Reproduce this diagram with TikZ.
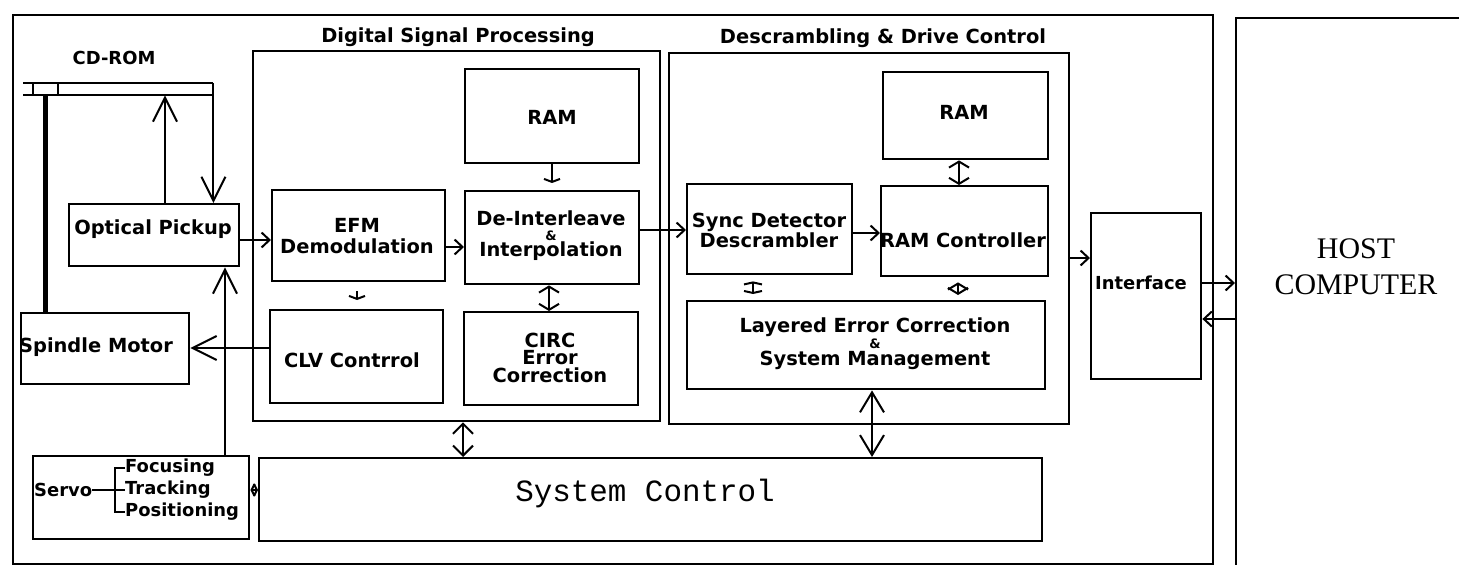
\documentclass[tikz,border=0pt]{standalone}
\usepackage{fontspec}
\setmainfont{Liberation Serif}
\newfontfamily\dvbfam{DejaVu Sans}
\newfontfamily\monofam{Liberation Mono}
\usetikzlibrary{arrows.meta,calc}
\newcommand\lblf{\dvbfam\bfseries\fontsize{19.5}{18}\selectfont}
\newcommand\lblsf{\dvbfam\bfseries\fontsize{18}{18}\selectfont}
\newcommand\mkbox[5]{\node[box, minimum width={(#4-#2)*1bp}, minimum height={(#5-#3)*1bp}] (#1) at (#2,#3) {};}
\tikzset{
  box/.style={draw, line width=2.4bp, inner sep=0pt, anchor=north west},
  lbl/.style={font=\lblf, align=center, inner sep=0pt},
  slbl/.style={font=\lblsf, align=center, inner sep=0pt},
  conn/.style={line width=2bp},
  bigtip/.style={-{Straight Barb[length=24bp,width=24bp]}},
  bigboth/.style={{Straight Barb[length=20bp,width=24bp]}-{Straight Barb[length=20bp,width=24bp]}},
  midtip/.style={-{Straight Barb[length=8bp,width=15bp]}},
  midboth/.style={{Straight Barb[length=10bp,width=20bp]}-{Straight Barb[length=10bp,width=20bp]}},
  smallboth/.style={{Straight Barb[length=6bp,width=20bp]}-{Straight Barb[length=6bp,width=20bp]}},
  flatboth/.style={{Straight Barb[length=2bp,width=18bp]}-{Straight Barb[length=2bp,width=18bp]}},
  flattip/.style={-{Straight Barb[length=3bp,width=16bp]}},
  tinyboth/.style={{Straight Barb[length=3bp,width=12bp]}-{Straight Barb[length=3bp,width=12bp]}},
}
\begin{document}
\begin{tikzpicture}[x=1bp,y=-1bp]
\useasboundingbox (0,0) rectangle (1459,565);
% frames
\mkbox{outer}{12}{14}{1212}{563}
\mkbox{host}{1235}{17}{1480}{590}
\mkbox{dsp}{252}{50}{659}{420}
\mkbox{ddc}{668}{52}{1068}{423}
% boxes
\mkbox{pickup}{68}{203}{238}{265}
\mkbox{spindle}{20}{312}{188}{383}
\mkbox{servo}{32}{455}{248}{538}
\mkbox{ramA}{464}{68}{638}{162}
\mkbox{efm}{271}{189}{444}{280}
\mkbox{deint}{464}{190}{638}{283}
\mkbox{clv}{269}{309}{442}{402}
\mkbox{circ}{463}{311}{637}{404}
\mkbox{ramB}{882}{71}{1047}{158}
\mkbox{sync}{686}{183}{851}{273}
\mkbox{ramctl}{880}{185}{1047}{275}
\mkbox{lec}{686}{300}{1044}{388}
\mkbox{sysctl}{258}{457}{1041}{540}
\mkbox{iface}{1090}{212}{1200}{378}
% disc
\node[inner sep=0pt, minimum width=190bp, minimum height=12bp, anchor=north west] (disc) at (23,83) {};
\draw[conn] (disc.north west) -- (disc.north east);
\draw[conn] (disc.south west) -- (disc.south east);
\coordinate (t1) at (33,0);
\coordinate (t2) at (58,0);
\draw[conn] (disc.north -| t1) -- (disc.south -| t1);
\draw[conn] (disc.north -| t2) -- (disc.south -| t2);
% texts
\node[slbl] (cdrom) at (114,58) {CD-ROM};
\node[lbl] (dsptitle) at (458,37) {Digital Signal Processing};
\node[lbl] (ddctitle) at (883,38) {Descrambling \& Drive Control};
\node[lbl] (pickuptxt) at (153,229) {Optical Pickup};
\node[lbl] (spindletxt) at (96,347) {Spindle Motor};
\node[lbl] (efmtxt) at (357,236) {EFM\\[3bp]Demodulation};
\node[lbl] (deinttxt) at (551,236) {De-Interleave\\[-3bp]{\fontsize{13}{13}\selectfont\&}\\[-2bp]Interpolation};
\node[lbl] (clvtxt) at (352,360) {CLV Contrrol};
\node[lbl] (circtxt) at (550,358) {CIRC\\[-1bp]Error\\[0bp]Correction};
\node[lbl] (ramAtxt) at (552,117) {RAM};
\node[lbl] (ramBtxt) at (964,112) {RAM};
\node[lbl] (synctxt) at (769,230) {Sync Detector\\Descrambler};
\node[lbl] (ramctltxt) at (963,240) {RAM Controller};
\node[lbl] (lectxt) at (875,344) {Layered Error Correction\\[-2bp]{\fontsize{13}{13}\selectfont\&}\\[-1bp]System Management};
\node[slbl] (ifacetxt) at (1141,283) {Interface};
\node[font=\monofam\fontsize{31}{31}\selectfont, inner sep=0pt] (sysctltxt) at (645,494) {System Control};
\node[font=\fontsize{30}{36}\selectfont, align=center, inner sep=0pt] (hosttxt) at (1356,267) {HOST\\COMPUTER};
% servo internals
\node[slbl, anchor=west] (servotxt) at (34,490) {Servo};
\node[slbl, anchor=west] (focus) at (125,468) {Focusing};
\node[slbl, anchor=west] (track) at (125,490) {Tracking};
\node[slbl, anchor=west] (posit) at (125,512) {Positioning};
\coordinate (bx) at (115,0);
\draw[line width=1.6bp] (servotxt.east) -- (servotxt.east -| bx);
\draw[line width=1.6bp] (focus.west) -- (focus.west -| bx) -- (posit.west -| bx) -- (posit.west);
\draw[line width=1.6bp] (track.west -| bx) -- (track.west);
% connectors
\coordinate (sx) at (45,0);
\draw[line width=5bp] (disc.south -| sx) -- (spindle.north -| sx);
\draw[conn, bigtip] (disc.north east) -- (pickup.north -| disc.east);
\coordinate (ux) at (165,0);
\draw[conn, bigtip] (pickup.north -| ux) -- (disc.south -| ux);
\coordinate (y240) at (0,240);
\draw[conn, midtip] (pickup.east |- y240) -- (efm.west |- y240);
\coordinate (vx) at (225,0);
\draw[conn, bigtip] (servo.north -| vx) -- (pickup.south -| vx);
\coordinate (y348) at (0,348);
\draw[conn, bigtip] (clv.west |- y348) -- (spindle.east |- y348);
\coordinate (y247) at (0,247);
\draw[conn, midtip] (efm.east |- y247) -- (deint.west |- y247);
\coordinate (x357) at (357,0);
\draw[conn, flattip, shorten <=9bp, shorten >=9bp] (efm.south -| x357) -- (clv.north -| x357);
\coordinate (x552) at (552,0);
\draw[conn, flattip, shorten >=7bp] (ramA.south -| x552) -- (deint.north -| x552);
\coordinate (x549) at (549,0);
\draw[conn, smallboth] (deint.south -| x549) -- (circ.north -| x549);
\coordinate (x463) at (463,0);
\draw[conn, midboth] (dsp.south -| x463) -- (sysctl.north -| x463);
\coordinate (y230) at (0,230);
\draw[conn, midtip] (deint.east |- y230) -- (sync.west |- y230);
\coordinate (y233) at (0,233);
\draw[conn, midtip] (sync.east |- y233) -- (ramctl.west |- y233);
\coordinate (x959) at (959,0);
\draw[conn, smallboth] (ramB.south -| x959) -- (ramctl.north -| x959);
\coordinate (x753) at (753,0);
\draw[conn, flatboth, shorten <=6bp, shorten >=6bp] (sync.south -| x753) -- (lec.north -| x753);
\coordinate (x958) at (958,0);
\draw[conn, smallboth, shorten <=5bp, shorten >=5bp] (ramctl.south -| x958) -- (lec.north -| x958);
\coordinate (x872) at (872,0);
\draw[conn, bigboth] (lec.south -| x872) -- (sysctl.north -| x872);
\coordinate (y258) at (0,258);
\draw[conn, midtip] (ddc.east |- y258) -- (iface.west |- y258);
\coordinate (y283) at (0,283);
\draw[conn, midtip] (iface.east |- y283) -- (host.west |- y283);
\coordinate (y319) at (0,319);
\draw[conn, midtip] (host.west |- y319) -- (iface.east |- y319);
\coordinate (y490) at (0,490);
\draw[conn, tinyboth] (servo.east |- y490) -- (sysctl.west |- y490);
\end{tikzpicture}
\end{document}
